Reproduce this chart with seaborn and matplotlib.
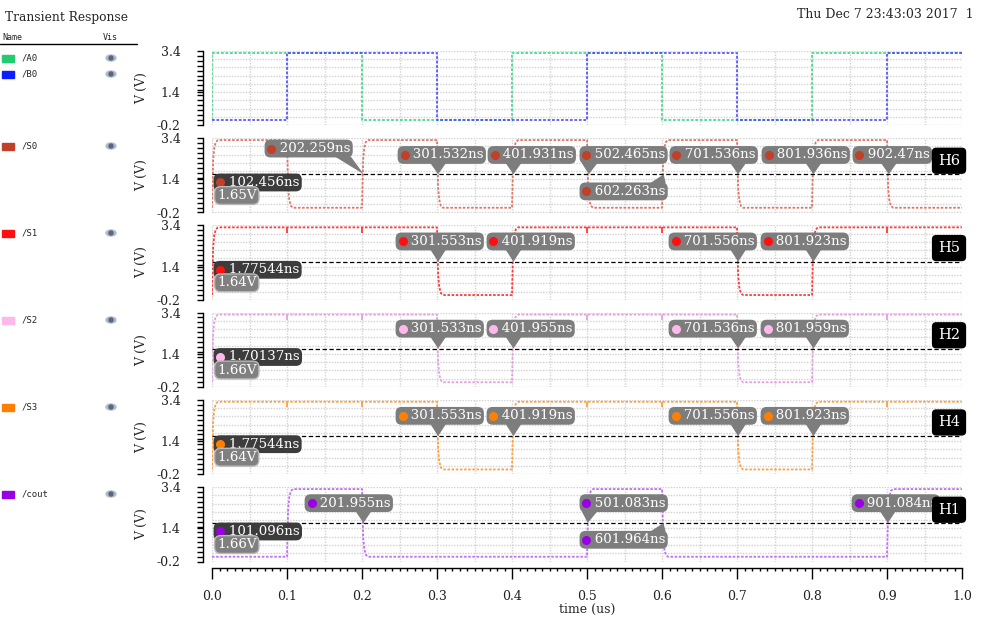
import matplotlib as mpl
mpl.use('Agg')
import matplotlib.pyplot as plt
from matplotlib.patches import Ellipse, Rectangle, Polygon
import numpy as np
import pandas as pd
import seaborn as sns

# logic levels (V)
HI = 3.3
LO = 0.03

# input stimuli, corners (us, V)
a0_t = [0.0, 0.0, 0.2, 0.2, 0.4, 0.4, 0.6, 0.6, 0.8, 0.8, 1.0]
a0_v = [LO, HI, HI, LO, LO, HI, HI, LO, LO, HI, HI]
b0_t = [0.0, 0.1, 0.1, 0.3, 0.3, 0.5, 0.5, 0.7, 0.7, 0.9, 0.9, 1.0]
b0_v = [LO, LO, HI, HI, LO, LO, HI, HI, LO, LO, HI, HI]

# outputs: switching instants (us), level at t=0
s0_edges = [0.0, 0.1, 0.2, 0.3, 0.4, 0.5, 0.6, 0.7, 0.8, 0.9]
s1_edges = [0.0, 0.3, 0.4, 0.7, 0.8]
s2_edges = [0.0, 0.3, 0.4, 0.7, 0.8]
s3_edges = [0.0, 0.3, 0.4, 0.7, 0.8]
cout_edges = [0.1, 0.2, 0.5, 0.6, 0.9]
glitch_times = [0.1, 0.2, 0.5, 0.6, 0.9]

# marker readouts (ns)
s0_cross = [202.259, 301.532, 401.931, 502.465, 701.536, 801.936, 902.47, 602.263]
s1_cross = [301.553, 401.919, 701.556, 801.923]
s2_cross = [301.533, 401.955, 701.536, 801.959]
s3_cross = [301.553, 401.919, 701.556, 801.923]
cout_cross = [201.955, 501.083, 601.964, 901.084]
hidden_marks = ['102.456ns', '1.77544ns', '1.70137ns', '1.77544ns', '101.096ns']
thresholds = [1.65, 1.64, 1.66, 1.64, 1.66]
tags = ['H6', 'H5', 'H2', 'H4', 'H1']

legend_names = ['/A0', '/B0', '/S0', '/S1', '/S2', '/S3', '/cout']
legend_colors = ['#22cc70', '#0a1eff', '#c0402a', '#ff1010', '#ffb8ec', '#ff8000', '#9a00e6']
wave_colors = ['#55dd99', '#4a4aff', '#e07565', '#ff3a3a', '#e6a0e2', '#ffa040', '#c070f0']

# ---- layout (pixels / data units) ----
W, H = 986, 619
PX_L, PX_W = 212, 750
PANEL_H = 74.5
panel_tops = [50.7, 138.0, 225.3, 312.5, 399.7, 487.0]
legend_rows = [58, 74, 146, 233, 320, 407, 494]
upper_row = 2.62
# callout anchors (time of text start in us, centre voltage)
s0_pos = [(0.0733, 2.89), (0.2507, 2.58), (0.3707, 2.58), (0.4933, 2.58),
          (0.6133, 2.58), (0.736, 2.58), (0.8573, 2.58), (0.4933, 0.82)]
s123_pos = [(0.248, upper_row), (0.3693, upper_row), (0.6120, upper_row), (0.7347, upper_row)]
cout_pos = [(0.1267, upper_row), (0.4933, upper_row), (0.4933, 0.85), (0.856, upper_row)]

RAMP_DT = [0.0, 0.0015, 0.003, 0.005, 0.008]
RAMP_FR = [0.0, 0.7, 0.88, 0.97, 1.0]

SERIF = 'DejaVu Serif'
MONO = 'DejaVu Sans Mono'
BOX_GRAY = '#7d7d7d'
FS_MARK = 9.6

sns.set_theme(style='white', rc={'axes.facecolor': 'white'})
plt.rcParams['font.family'] = [SERIF, 'DejaVu Sans']


def build_wave(edges, start):
    t, v, level = [0.0], [start], start
    for e in edges:
        new = HI if level == LO else LO
        for dt, fr in zip(RAMP_DT, RAMP_FR):
            t.append(e + dt)
            v.append(level + (new - level) * fr)
        level = new
    t.append(1.0)
    v.append(level)
    return pd.DataFrame({'t': t, 'v': v})


def style_panel(ax, last):
    ax.set_xlim(0, 1)
    ax.set_ylim(-0.2, 3.4)
    for t in np.arange(0, 1.0001, 0.05):
        ax.axvline(t, color='#d2d2d2', lw=1.0, ls=(0, (1, 1)), zorder=0)
    for v in np.arange(-0.2, 3.41, 0.4):
        ax.axhline(v, color='#d2d2d2', lw=1.0, ls=(0, (1, 1)), zorder=0)
    ax.set_yticks([-0.2, 1.4, 3.4])
    ax.set_yticklabels(['-0.2', '1.4', '3.4'])
    ax.set_yticks(np.linspace(-0.2, 3.4, 16), minor=True)
    ax.tick_params(axis='y', which='both', direction='out', length=4, width=1,
                   color='black', left=True, pad=12, labelsize=9, labelcolor='#222222')
    for s in ['top', 'right']:
        ax.spines[s].set_visible(False)
    ax.spines['left'].set_position(('outward', 6.5))
    ax.spines['left'].set_bounds(-0.2, 3.4)
    ax.spines['left'].set_color('black')
    ax.spines['left'].set_linewidth(1)
    if last:
        ax.spines['bottom'].set_position(('outward', 4.5))
        ax.spines['bottom'].set_color('black')
        ax.spines['bottom'].set_linewidth(1)
        ax.set_xticks(np.arange(0, 1.0001, 0.1))
        ax.set_xticklabels(['%.1f' % x for x in np.arange(0, 1.0001, 0.1)])
        ax.set_xticks(np.arange(0, 1.0001, 0.01), minor=True)
        ax.tick_params(axis='x', which='major', direction='out', length=8, width=1,
                       color='black', bottom=True, pad=8, labelsize=9, labelcolor='#222222')
        ax.tick_params(axis='x', which='minor', direction='out', length=2.5, width=1,
                       color='black', bottom=True)
    else:
        ax.spines['bottom'].set_visible(False)
        ax.set_xticks([])


pointers = []


def callout(ax, text, t_cross, thr, pos, dot_color, fc=BOX_GRAY, arrow=True, z=5):
    tx, ty = pos
    txt = ax.text(tx, ty, '   ' + text, ha='left', va='center', color='white', fontsize=FS_MARK,
                  family=SERIF, zorder=z, clip_on=False,
                  bbox=dict(boxstyle='round,pad=0.18,rounding_size=0.45', fc=fc, ec='none'))
    ax.plot(tx + 0.006, ty, 'o', color=dot_color, ms=6.5, mec='none', zorder=z + 0.5, clip_on=False)
    if arrow:
        pointers.append((ax, txt, t_cross, thr, fc, z))


fig = plt.figure(figsize=(W / 100, H / 100), dpi=100)

# left name column / header
lax = fig.add_axes([0, 0, 1, 1], zorder=-1)
lax.set_xlim(0, W)
lax.set_ylim(H, 0)
lax.axis('off')
lax.text(5, 17, 'Transient Response', fontsize=8.8, va='center', family=SERIF)
lax.text(2, 37, 'Name', fontsize=6, va='center', family=MONO)
lax.text(103, 37, 'Vis', fontsize=6, va='center', family=MONO)
lax.plot([0, 137], [44, 44], color='black', lw=1)
for name, col, y in zip(legend_names, legend_colors, legend_rows):
    lax.add_patch(Rectangle((2, y - 3.5), 12, 7, color=col))
    lax.text(22, y, name, fontsize=6.5, va='center', family=MONO)
    lax.add_patch(Ellipse((111, y), 10, 6, color='#b4bccb'))
    lax.add_patch(Ellipse((111, y), 4, 4, color='#56677f'))
lax.text(974, 15, 'Thu Dec 7 23:43:03 2017  1', fontsize=9, ha='right', va='center', family=SERIF)

axes = []
for i, top in enumerate(panel_tops):
    ax = fig.add_axes([PX_L / W, 1 - (top + PANEL_H) / H, PX_W / W, PANEL_H / H])
    style_panel(ax, i == len(panel_tops) - 1)
    axes.append(ax)

dots = (0, (1.4, 0.9))

# panel 1: inputs
sns.lineplot(data=pd.DataFrame({'t': a0_t, 'v': a0_v}), x='t', y='v', ax=axes[0], estimator=None,
             sort=False, color=wave_colors[0], lw=1.4, linestyle=dots, zorder=2)
sns.lineplot(data=pd.DataFrame({'t': b0_t, 'v': b0_v}), x='t', y='v', ax=axes[0], estimator=None,
             sort=False, color=wave_colors[1], lw=1.4, linestyle=dots, alpha=0.85, zorder=2)

out_edges = [s0_edges, s1_edges, s2_edges, s3_edges, cout_edges]
out_start = [LO, LO, LO, LO, LO]
out_cross = [s0_cross, s1_cross, s2_cross, s3_cross, cout_cross]
out_pos = [s0_pos, s123_pos, s123_pos, s123_pos, cout_pos]

for k in range(5):
    ax = axes[k + 1]
    col = wave_colors[k + 2]
    dot_col = legend_colors[k + 2]
    thr = thresholds[k]
    sns.lineplot(data=build_wave(out_edges[k], out_start[k]), x='t', y='v', ax=ax, estimator=None,
                 sort=False, color=col, lw=1.3, linestyle=dots, zorder=2)
    if k in (1, 2, 3):
        ax.vlines(glitch_times, HI - 0.25, HI, color=col, lw=1.3, zorder=2)
    ax.axhline(thr, color='black', lw=0.9, ls=(0, (3.5, 2)), zorder=3)
    for val, pos in zip(out_cross[k], out_pos[k]):
        callout(ax, '%gns' % val, val / 1000.0, thr, pos, dot_col)
    # covered first-edge marker and the threshold readout
    callout(ax, hidden_marks[k], 0.0, thr, (0.0053, 1.25), dot_col, fc='#3c3c3c', arrow=False, z=4)
    ax.text(0.0067, 0.62, '%.2fV' % thr, ha='left', va='center', color='white', fontsize=FS_MARK,
            family=SERIF, zorder=8,
            bbox=dict(boxstyle='round,pad=0.18,rounding_size=0.45', fc='#808080', ec='#b8b8b8', lw=1))
    ax.text(0.9827, 2.3, tags[k], ha='center', va='center', color='white', fontsize=10.5,
            family=SERIF, zorder=9, clip_on=False,
            bbox=dict(boxstyle='round,pad=0.42,rounding_size=0.3', fc='black', ec='none'))

for ax in axes:
    ax.set_xlim(0, 1)
    ax.set_ylim(-0.2, 3.4)
    ax.set_xlabel('')
    ax.set_ylabel('V (V)', fontsize=9)
    ax.yaxis.set_label_coords(-0.085, 0.5)
axes[-1].set_xlabel('time (us)', fontsize=9)
axes[-1].xaxis.set_label_coords(0.5, -0.55)

# callout pointers: triangle from the box edge to the crossing point
fig.canvas.draw()
renderer = fig.canvas.get_renderer()
for ax, txt, t_cross, thr, fc, z in pointers:
    bb = txt.get_bbox_patch().get_window_extent(renderer)
    tip = ax.transData.transform((t_cross, thr))
    base_y = bb.y0 + 1 if tip[1] < bb.y0 else bb.y1 - 1
    cx = float(np.clip(tip[0], bb.x0 + 10, bb.x1 - 10))
    pts_disp = np.array([[cx - 8, base_y], [cx + 8, base_y], tip])
    pts = ax.transData.inverted().transform(pts_disp)
    ax.add_patch(Polygon(pts, closed=True, fc=fc, ec='none', zorder=z, clip_on=False))

fig.savefig('out.png', dpi=100)
